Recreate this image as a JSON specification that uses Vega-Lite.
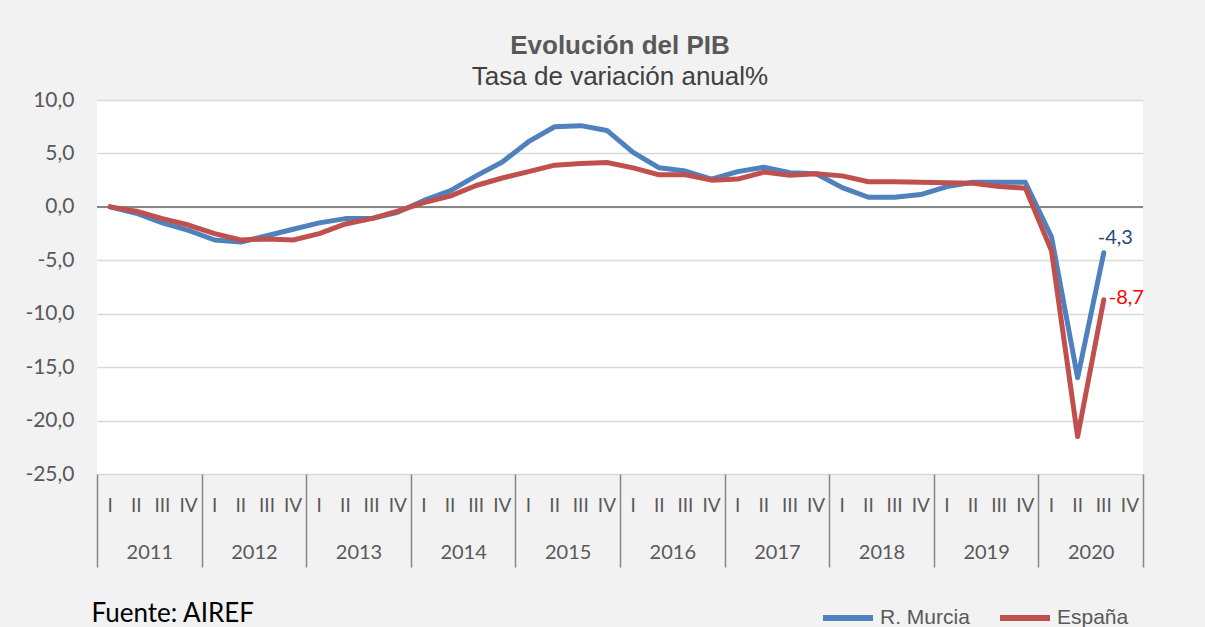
{
  "$schema": "https://vega.github.io/schema/vega-lite/v6.json",
  "width": 1046,
  "height": 374,
  "autosize": {"type": "none"},
  "padding": {"left": 97, "top": 100, "right": 62, "bottom": 153},
  "background": "#f2f2f2",
  "config": {
    "view": {"fill": "white", "stroke": null},
    "locale": {"number": {"decimal": ",", "thousands": ".", "grouping": [3], "currency": ["", " €"], "minus": "-"}}
  },
  "title": {
    "text": "Evolución del PIB",
    "subtitle": "Tasa de variación anual%",
    "anchor": "middle",
    "font": "Liberation Sans",
    "fontSize": 26,
    "fontWeight": "bold",
    "color": "#595959",
    "subtitleFont": "Liberation Sans",
    "subtitleFontSize": 26,
    "subtitleColor": "#404040",
    "subtitlePadding": 5,
    "offset": -1
  },
  "data": {"values": [
    {"periodo": "2011 I", "anio": "2011", "serie": "R. Murcia", "valor": 0.0},
    {"periodo": "2011 II", "anio": "2011", "serie": "R. Murcia", "valor": -0.6},
    {"periodo": "2011 III", "anio": "2011", "serie": "R. Murcia", "valor": -1.5},
    {"periodo": "2011 IV", "anio": "2011", "serie": "R. Murcia", "valor": -2.2},
    {"periodo": "2012 I", "anio": "2012", "serie": "R. Murcia", "valor": -3.1},
    {"periodo": "2012 II", "anio": "2012", "serie": "R. Murcia", "valor": -3.3},
    {"periodo": "2012 III", "anio": "2012", "serie": "R. Murcia", "valor": -2.7},
    {"periodo": "2012 IV", "anio": "2012", "serie": "R. Murcia", "valor": -2.1},
    {"periodo": "2013 I", "anio": "2013", "serie": "R. Murcia", "valor": -1.5},
    {"periodo": "2013 II", "anio": "2013", "serie": "R. Murcia", "valor": -1.1},
    {"periodo": "2013 III", "anio": "2013", "serie": "R. Murcia", "valor": -1.1},
    {"periodo": "2013 IV", "anio": "2013", "serie": "R. Murcia", "valor": -0.5},
    {"periodo": "2014 I", "anio": "2014", "serie": "R. Murcia", "valor": 0.6},
    {"periodo": "2014 II", "anio": "2014", "serie": "R. Murcia", "valor": 1.5},
    {"periodo": "2014 III", "anio": "2014", "serie": "R. Murcia", "valor": 2.9},
    {"periodo": "2014 IV", "anio": "2014", "serie": "R. Murcia", "valor": 4.2},
    {"periodo": "2015 I", "anio": "2015", "serie": "R. Murcia", "valor": 6.1},
    {"periodo": "2015 II", "anio": "2015", "serie": "R. Murcia", "valor": 7.5},
    {"periodo": "2015 III", "anio": "2015", "serie": "R. Murcia", "valor": 7.6},
    {"periodo": "2015 IV", "anio": "2015", "serie": "R. Murcia", "valor": 7.15},
    {"periodo": "2016 I", "anio": "2016", "serie": "R. Murcia", "valor": 5.1},
    {"periodo": "2016 II", "anio": "2016", "serie": "R. Murcia", "valor": 3.65},
    {"periodo": "2016 III", "anio": "2016", "serie": "R. Murcia", "valor": 3.35},
    {"periodo": "2016 IV", "anio": "2016", "serie": "R. Murcia", "valor": 2.6},
    {"periodo": "2017 I", "anio": "2017", "serie": "R. Murcia", "valor": 3.3},
    {"periodo": "2017 II", "anio": "2017", "serie": "R. Murcia", "valor": 3.7},
    {"periodo": "2017 III", "anio": "2017", "serie": "R. Murcia", "valor": 3.2},
    {"periodo": "2017 IV", "anio": "2017", "serie": "R. Murcia", "valor": 3.1},
    {"periodo": "2018 I", "anio": "2018", "serie": "R. Murcia", "valor": 1.8},
    {"periodo": "2018 II", "anio": "2018", "serie": "R. Murcia", "valor": 0.9},
    {"periodo": "2018 III", "anio": "2018", "serie": "R. Murcia", "valor": 0.9},
    {"periodo": "2018 IV", "anio": "2018", "serie": "R. Murcia", "valor": 1.15},
    {"periodo": "2019 I", "anio": "2019", "serie": "R. Murcia", "valor": 1.9},
    {"periodo": "2019 II", "anio": "2019", "serie": "R. Murcia", "valor": 2.3},
    {"periodo": "2019 III", "anio": "2019", "serie": "R. Murcia", "valor": 2.3},
    {"periodo": "2019 IV", "anio": "2019", "serie": "R. Murcia", "valor": 2.3},
    {"periodo": "2020 I", "anio": "2020", "serie": "R. Murcia", "valor": -2.8},
    {"periodo": "2020 II", "anio": "2020", "serie": "R. Murcia", "valor": -16.0},
    {"periodo": "2020 III", "anio": "2020", "serie": "R. Murcia", "valor": -4.3},
    {"periodo": "2011 I", "anio": "2011", "serie": "España", "valor": 0.0},
    {"periodo": "2011 II", "anio": "2011", "serie": "España", "valor": -0.4},
    {"periodo": "2011 III", "anio": "2011", "serie": "España", "valor": -1.1},
    {"periodo": "2011 IV", "anio": "2011", "serie": "España", "valor": -1.7},
    {"periodo": "2012 I", "anio": "2012", "serie": "España", "valor": -2.5},
    {"periodo": "2012 II", "anio": "2012", "serie": "España", "valor": -3.1},
    {"periodo": "2012 III", "anio": "2012", "serie": "España", "valor": -3.0},
    {"periodo": "2012 IV", "anio": "2012", "serie": "España", "valor": -3.1},
    {"periodo": "2013 I", "anio": "2013", "serie": "España", "valor": -2.5},
    {"periodo": "2013 II", "anio": "2013", "serie": "España", "valor": -1.6},
    {"periodo": "2013 III", "anio": "2013", "serie": "España", "valor": -1.1},
    {"periodo": "2013 IV", "anio": "2013", "serie": "España", "valor": -0.4},
    {"periodo": "2014 I", "anio": "2014", "serie": "España", "valor": 0.4},
    {"periodo": "2014 II", "anio": "2014", "serie": "España", "valor": 1.0},
    {"periodo": "2014 III", "anio": "2014", "serie": "España", "valor": 2.0},
    {"periodo": "2014 IV", "anio": "2014", "serie": "España", "valor": 2.7},
    {"periodo": "2015 I", "anio": "2015", "serie": "España", "valor": 3.3},
    {"periodo": "2015 II", "anio": "2015", "serie": "España", "valor": 3.9},
    {"periodo": "2015 III", "anio": "2015", "serie": "España", "valor": 4.05},
    {"periodo": "2015 IV", "anio": "2015", "serie": "España", "valor": 4.15},
    {"periodo": "2016 I", "anio": "2016", "serie": "España", "valor": 3.65},
    {"periodo": "2016 II", "anio": "2016", "serie": "España", "valor": 3.0},
    {"periodo": "2016 III", "anio": "2016", "serie": "España", "valor": 3.0},
    {"periodo": "2016 IV", "anio": "2016", "serie": "España", "valor": 2.5},
    {"periodo": "2017 I", "anio": "2017", "serie": "España", "valor": 2.6},
    {"periodo": "2017 II", "anio": "2017", "serie": "España", "valor": 3.25},
    {"periodo": "2017 III", "anio": "2017", "serie": "España", "valor": 2.95},
    {"periodo": "2017 IV", "anio": "2017", "serie": "España", "valor": 3.1},
    {"periodo": "2018 I", "anio": "2018", "serie": "España", "valor": 2.9},
    {"periodo": "2018 II", "anio": "2018", "serie": "España", "valor": 2.35},
    {"periodo": "2018 III", "anio": "2018", "serie": "España", "valor": 2.35},
    {"periodo": "2018 IV", "anio": "2018", "serie": "España", "valor": 2.3},
    {"periodo": "2019 I", "anio": "2019", "serie": "España", "valor": 2.25},
    {"periodo": "2019 II", "anio": "2019", "serie": "España", "valor": 2.2},
    {"periodo": "2019 III", "anio": "2019", "serie": "España", "valor": 1.9},
    {"periodo": "2019 IV", "anio": "2019", "serie": "España", "valor": 1.75},
    {"periodo": "2020 I", "anio": "2020", "serie": "España", "valor": -4.1},
    {"periodo": "2020 II", "anio": "2020", "serie": "España", "valor": -21.5},
    {"periodo": "2020 III", "anio": "2020", "serie": "España", "valor": -8.7}
  ]},
  "layer": [
    {
      "mark": {"type": "rule", "opacity": 0},
      "encoding": {
        "x": {
          "field": "anio",
          "type": "ordinal",
          "scale": {"type": "band", "paddingInner": 0, "paddingOuter": 0},
          "axis": {
            "orient": "bottom",
            "title": "Fuente: AIREF",
            "titleAnchor": "start",
            "titleAlign": "left",
            "titleBaseline": "alphabetic",
            "titleX": -6,
            "titleY": 147,
            "titleFont": "Lato",
            "titleFontSize": 26,
            "titleFontWeight": "normal",
            "titleColor": "#000000",
            "labelAngle": 0,
            "labelFont": "Lato",
            "labelFontSize": 20,
            "labelColor": "#595959",
            "labelBaseline": "middle",
            "labelPadding": -15,
            "ticks": true,
            "tickBand": "extent",
            "tickSize": 93,
            "tickColor": "#868686",
            "tickWidth": 1.5,
            "domain": false,
            "grid": false
          }
        }
      }
    },
    {
      "layer": [
        {
          "mark": {"type": "rule", "color": "#868686", "strokeWidth": 1.5},
          "encoding": {"y": {"datum": 0, "type": "quantitative"}}
        },
        {
          "mark": {"type": "line", "strokeWidth": 5, "strokeCap": "round", "strokeJoin": "round"},
          "encoding": {
            "x": {
              "field": "periodo",
              "type": "ordinal",
              "scale": {
                "type": "band",
                "paddingInner": 0,
                "paddingOuter": 0,
                "domain": ["2011 I","2011 II","2011 III","2011 IV","2012 I","2012 II","2012 III","2012 IV","2013 I","2013 II","2013 III","2013 IV","2014 I","2014 II","2014 III","2014 IV","2015 I","2015 II","2015 III","2015 IV","2016 I","2016 II","2016 III","2016 IV","2017 I","2017 II","2017 III","2017 IV","2018 I","2018 II","2018 III","2018 IV","2019 I","2019 II","2019 III","2019 IV","2020 I","2020 II","2020 III","2020 IV"]
              },
              "axis": {
                "orient": "bottom",
                "title": null,
                "labelExpr": "split(datum.value, ' ')[1]",
                "labelAngle": 0,
                "labelFont": "Lato",
                "labelFontSize": 19,
                "labelColor": "#595959",
                "labelBaseline": "middle",
                "labelPadding": 31,
                "ticks": false,
                "tickSize": 0,
                "domain": false,
                "grid": false
              }
            },
            "y": {
              "field": "valor",
              "type": "quantitative",
              "scale": {"domain": [-25, 10], "nice": false, "zero": false},
              "axis": {
                "title": null,
                "values": [-25, -20, -15, -10, -5, 0, 5, 10],
                "format": ".1f",
                "labelFont": "Lato",
                "labelFontSize": 21,
                "labelColor": "#595959",
                "labelPadding": 23,
                "ticks": false,
                "domain": false,
                "grid": true,
                "gridColor": "#d9d9d9",
                "gridWidth": 1.5
              }
            },
            "color": {
              "field": "serie",
              "type": "nominal",
              "scale": {"domain": ["R. Murcia", "España"], "range": ["#4f81bd", "#c0504d"]},
              "legend": {
                "orient": "none",
                "legendX": 723,
                "legendY": 490,
                "direction": "horizontal",
                "title": null,
                "symbolType": "stroke",
                "symbolSize": 2500,
                "symbolStrokeWidth": 6,
                "labelFont": "Liberation Sans",
                "labelFontSize": 21,
                "labelColor": "#595959",
                "labelOffset": 4,
                "columnPadding": 18,
                "padding": 0
              }
            }
          }
        },
        {
          "transform": [{"filter": "datum.serie === 'R. Murcia' && datum.periodo === '2020 III'"}],
          "mark": {"type": "text", "align": "left", "baseline": "middle", "dx": -6, "dy": -15, "font": "Lato", "fontSize": 20, "color": "#1f497d"},
          "encoding": {
            "x": {"field": "periodo", "type": "ordinal"},
            "y": {"field": "valor", "type": "quantitative"},
            "text": {"field": "valor", "type": "quantitative", "format": ".1f"}
          }
        },
        {
          "transform": [{"filter": "datum.serie === 'España' && datum.periodo === '2020 III'"}],
          "mark": {"type": "text", "align": "left", "baseline": "middle", "dx": 5, "dy": -2, "font": "Lato", "fontSize": 20, "color": "#ff0000"},
          "encoding": {
            "x": {"field": "periodo", "type": "ordinal"},
            "y": {"field": "valor", "type": "quantitative"},
            "text": {"field": "valor", "type": "quantitative", "format": ".1f"}
          }
        }
      ]
    }
  ],
  "resolve": {"scale": {"x": "independent"}, "axis": {"x": "independent"}}
}
